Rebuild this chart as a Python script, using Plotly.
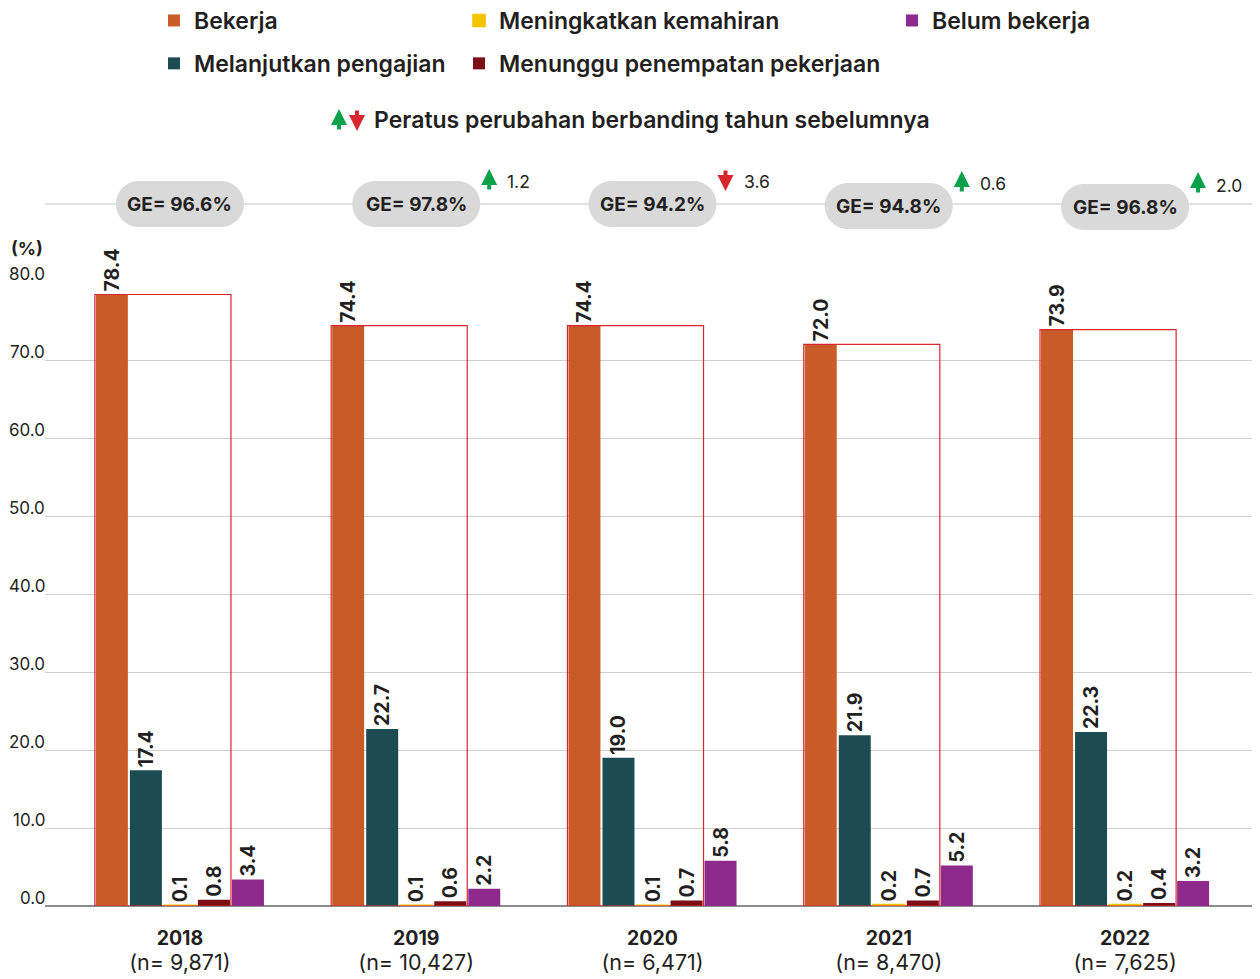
import plotly.graph_objects as go

# ---------------- data ----------------
years = ["2018", "2019", "2020", "2021", "2022"]
n_resp = ["9,871", "10,427", "6,471", "8,470", "7,625"]
bekerja = [78.4, 74.4, 74.4, 72.0, 73.9]
melanjutkan = [17.4, 22.7, 19.0, 21.9, 22.3]
meningkatkan = [0.1, 0.1, 0.1, 0.2, 0.2]
menunggu = [0.8, 0.6, 0.7, 0.7, 0.4]
belum = [3.4, 2.2, 5.8, 5.2, 3.2]
ge = [96.6, 97.8, 94.2, 94.8, 96.8]
change = [None, 1.2, -3.6, 0.6, 2.0]
y_ticks = [0, 10, 20, 30, 40, 50, 60, 70, 80]
y_tick_labels = ["0.0", "10.0", "20.0", "30.0", "40.0", "50.0", "60.0", "70.0", "80.0"]

series = [
    ("Bekerja", bekerja, "#c85b27", "legend", 1),
    ("Melanjutkan pengajian", melanjutkan, "#1c4c52", "legend", 2),
    ("Meningkatkan kemahiran", meningkatkan, "#f5c400", "legend2", 3),
    ("Menunggu penempatan pekerjaan", menunggu, "#7c1016", "legend2", 4),
    ("Belum bekerja", belum, "#8e2a8b", "legend3", 5),
]

TXT = "#231f20"
FONT = "Inter"
OFF = 8                      # page body margin of the browser
W, H = 1260 - OFF, 979 - OFF
ML, MR = 45 - OFF, 0
MT = 282 - OFF
MB = H - (906 - OFF)
PW = W - ML - MR
PH = H - MT - MB


def px_x(p):
    """screen x pixel -> paper coordinate"""
    return (p - OFF - ML) / PW


def px_y(p):
    """screen y pixel -> paper coordinate"""
    return (H - MB - (p - OFF)) / PH


xs = list(range(len(years)))
bargap = 0.28
slot = (1 - bargap) / len(series)
xpad = 0.571

fig = go.Figure()
for name, vals, col, leg, rank in series:
    lw = 1.6 if name.startswith("Meningkatkan") else 0
    fig.add_trace(go.Bar(
        x=xs, y=vals, name=name, marker=dict(color=col, line=dict(width=lw, color=col)),
        text=[f"{v:.1f}" for v in vals], textposition="outside", textangle=-90,
        textfont=dict(family=FONT, size=19.5, color=TXT, weight="bold"),
        constraintext="none", cliponaxis=False,
        legend=leg, legendrank=rank, legendgroup=name,
    ))

shapes = []
annotations = []

# red GE outline rectangles (covering first four categories)
for i, b in enumerate(bekerja):
    left = i - (1 - bargap) / 2
    shapes.append(dict(type="rect", xref="x", yref="y", x0=left, x1=left + 4 * slot,
                       y0=0, y1=b, line=dict(color="#d8262e", width=1.2), layer="above"))

# grey line through the GE pills
pill_y_px = [204, 204, 204, 206, 207]
shapes.append(dict(type="line", xref="paper", yref="paper", x0=0, x1=1,
                   y0=px_y(204), y1=px_y(204), line=dict(color="#c4c4c4", width=1.2), layer="below"))

hw, hh = 64, 23
k = 0.5523
s = hw - hh
pill_path = (f"M {-s},{-hh} L {s},{-hh} C {s + k*hh},{-hh} {hw},{-k*hh} {hw},0 "
             f"C {hw},{k*hh} {s + k*hh},{hh} {s},{hh} L {-s},{hh} "
             f"C {-s - k*hh},{hh} {-hw},{k*hh} {-hw},0 C {-hw},{-k*hh} {-s - k*hh},{-hh} {-s},{-hh} Z")

unit_px = PW / (xs[-1] - xs[0] + 2 * xpad)
ARW = dict(arrowhead=2, arrowsize=0.8, arrowwidth=4, standoff=0)
for i, g in enumerate(ge):
    yy = px_y(pill_y_px[i])
    shapes.append(dict(type="path", xref="x", yref="paper", xsizemode="pixel", ysizemode="pixel",
                       xanchor=i, yanchor=yy, path=pill_path,
                       fillcolor="#d9d9d9", line=dict(width=0), layer="above"))
    annotations.append(dict(x=i, y=yy, xref="x", yref="paper", text=f"<b>GE= {g:.1f}%</b>",
                            showarrow=False, font=dict(family=FONT, size=19, color=TXT),
                            xanchor="center", yanchor="middle"))
    c = change[i]
    if c is not None:
        ax_x = i + 73 / unit_px
        up = c >= 0
        col = "#0aa14b" if up else "#d8262e"
        top = pill_y_px[i] - 35
        bot = pill_y_px[i] - 13
        if up:
            annotations.append(dict(x=ax_x, y=px_y(top), xref="x", yref="paper", text="",
                                    showarrow=True, ax=0, ay=bot - top, arrowcolor=col, **ARW))
        else:
            annotations.append(dict(x=ax_x, y=px_y(bot), xref="x", yref="paper", text="",
                                    showarrow=True, ax=0, ay=top - bot, arrowcolor=col, **ARW))
        annotations.append(dict(x=ax_x + 16 / unit_px, y=px_y(pill_y_px[i] - 22), xref="x", yref="paper",
                                text=f"{abs(c):.1f}", showarrow=False, xanchor="left", yanchor="middle",
                                font=dict(family=FONT, size=17.5, color=TXT)))

# y tick labels sitting above the grid lines
for v, lab in zip(y_ticks, y_tick_labels):
    annotations.append(dict(x=0, y=v, xref="paper", yref="y", text=lab, showarrow=False,
                            xanchor="right", yanchor="bottom", xshift=2, yshift=-3.5,
                            font=dict(family=FONT, size=17, color=TXT)))
annotations.append(dict(x=0, y=px_y(248), xref="paper", yref="paper", text="<b>(%)</b>",
                        showarrow=False, xanchor="right", yanchor="middle", xshift=0,
                        font=dict(family=FONT, size=18, color=TXT)))

# change-indicator legend line
annotations.append(dict(x=px_x(339), y=px_y(109), xref="paper", yref="paper", text="", showarrow=True,
                        ax=0, ay=22, arrowcolor="#0aa14b", **ARW))
annotations.append(dict(x=px_x(357), y=px_y(131), xref="paper", yref="paper", text="", showarrow=True,
                        ax=0, ay=-22, arrowcolor="#d8262e", **ARW))
annotations.append(dict(x=px_x(372), y=px_y(120), xref="paper", yref="paper",
                        text="Peratus perubahan berbanding tahun sebelumnya", showarrow=False,
                        xanchor="left", yanchor="middle",
                        font=dict(family=FONT, size=23, color=TXT, weight=600)))

leg_common = dict(orientation="v", yanchor="top", xanchor="left", tracegroupgap=10,
                  font=dict(family=FONT, size=23, color=TXT, weight=600),
                  bgcolor="rgba(0,0,0,0)", itemclick=False, itemdoubleclick=False)

fig.update_layout(
    width=W, height=H,
    margin=dict(l=ML, r=MR, t=MT, b=MB, autoexpand=False),
    plot_bgcolor="white", paper_bgcolor="white",
    barmode="group", bargap=bargap, bargroupgap=0.06,
    font=dict(family=FONT, color=TXT),
    xaxis=dict(range=[xs[0] - xpad, xs[-1] + xpad], tickmode="array", tickvals=xs,
               ticktext=[f"<b>{y}</b><br><span style='font-size:21.5px'>(n= {n})</span>"
                         for y, n in zip(years, n_resp)],
               tickfont=dict(family=FONT, size=19.5, color=TXT), showgrid=False,
               ticks="", ticklabelstandoff=18, showline=False, zeroline=False, fixedrange=True),
    yaxis=dict(range=[0, 80], tickvals=y_ticks, showticklabels=False, showgrid=True,
               gridcolor="#cfcfcf", gridwidth=1.2, zeroline=True, zerolinecolor="#8c8c8c",
               zerolinewidth=2, showline=False, fixedrange=True),
    legend=dict(x=px_x(154), y=px_y(-1), **leg_common),
    legend2=dict(x=px_x(459), y=px_y(-1), **leg_common),
    legend3=dict(x=px_x(892), y=px_y(-1), **leg_common),
    shapes=shapes,
    annotations=annotations,
)

fig.write_html("out.html")
